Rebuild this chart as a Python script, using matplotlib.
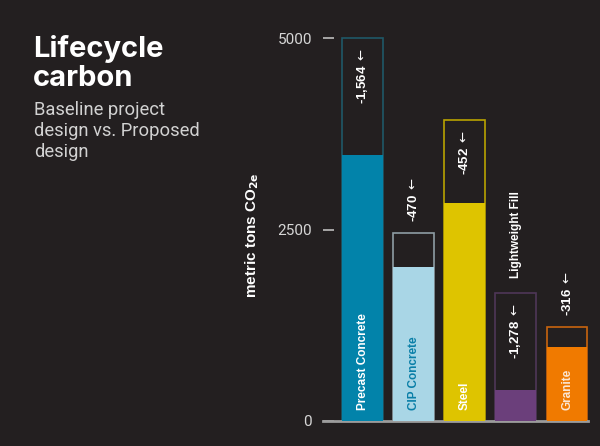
import matplotlib
matplotlib.use("Agg")
import matplotlib.pyplot as plt
import numpy as np

# data (metric tons CO2e)
materials = ["Precast Concrete", "CIP Concrete", "Steel", "Lightweight Fill", "Granite"]
baseline = [5000, 2460, 3930, 1667, 1231]
proposed = [3470, 2010, 2850, 405, 970]
reduction_labels = ["-1,564", "-470", "-452", "-1,278", "-316"]
yticks = [0, 2500, 5000]

fill_colors = ["#0283aa", "#a9d6e6", "#dec400", "#6b3f7b", "#f07a00"]
edge_colors = ["#1f5868", "#8d9ca3", "#b8a200", "#4f3658", "#c8640e"]
name_colors = ["#ffffff", "#0a7fa8", "#ffffff", "#ffffff", "#fbe6d2"]

bg = "#231f20"
W, H = 600, 446

fig = plt.figure(figsize=(6, 4.46), dpi=100, facecolor=bg)
# axes placed from pixel positions of the reference
ax = fig.add_axes([323 / W, 1 - 421 / H, (588 - 323) / W, (421 - 23) / H], facecolor=bg)

x = np.arange(len(materials))
width = 0.8
ax.bar(x, baseline, width, color=bg, edgecolor=edge_colors, linewidth=1.2, zorder=2)
ax.bar(x, proposed, width, color=fill_colors, linewidth=0, zorder=3)

ax.set_xlim(-0.773, 4.41)
ax.set_ylim(0, 5200)
ax.set_xticks([])
ax.set_yticks(yticks)
ax.set_yticklabels([str(t) for t in yticks], family="Roboto", fontsize=11, color="#d6d6d6")
ax.tick_params(axis="y", direction="in", length=8, width=1.2, color="#bdbdbd", pad=8)
for s in ["top", "right", "left"]:
    ax.spines[s].set_visible(False)
ax.spines["bottom"].set_color("#9c9c9c")
ax.spines["bottom"].set_linewidth(2)

lab_font = dict(family="Liberation Sans", fontweight="bold", rotation=90)
arrow = r" $\leftarrow$"
for i, name in enumerate(materials):
    gap = baseline[i] - proposed[i]
    # reduction label goes inside the empty part when it fits, otherwise on top
    if gap > 800:
        ax.annotate(reduction_labels[i] + arrow, (x[i], baseline[i]), xytext=(0, -7),
                    textcoords="offset points", ha="center", va="top", color="white",
                    fontsize=9.5, zorder=5, **lab_font)
        name_above = proposed[i] < len(name) * 85 + 200
        if name_above:
            ax.annotate(name, (x[i], baseline[i]), xytext=(0, 11), textcoords="offset points",
                        ha="center", va="bottom", color="white", fontsize=8.5,
                        annotation_clip=False, zorder=5, **lab_font)
    else:
        ax.annotate(reduction_labels[i] + arrow, (x[i], baseline[i]), xytext=(0, 8),
                    textcoords="offset points", ha="center", va="bottom", color="white",
                    fontsize=9.5, annotation_clip=False, zorder=5, **lab_font)
        name_above = False
    if not name_above:
        ax.annotate(name, (x[i], 0), xytext=(0, 8), textcoords="offset points",
                    ha="center", va="bottom", color=name_colors[i], fontsize=8.5,
                    zorder=5, **lab_font)

fig.text(252 / W, 1 - 235 / H, r"metric tons CO$_{\mathbf{2e}}$", rotation=90,
         ha="center", va="center", color="white", fontsize=11, fontweight="bold",
         family="Liberation Sans")

fig.text(33 / W, 1 - 35 / H, "Lifecycle\ncarbon", ha="left", va="top", color="white",
         fontsize=21, fontweight="bold", family="Inter", linespacing=1.08)
fig.text(34 / W, 1 - 101 / H, "Baseline project\ndesign vs. Proposed\ndesign", ha="left",
         va="top", color="#d2d2d2", fontsize=13.2, family="Roboto", linespacing=1.2)

fig.savefig("out.png", dpi=100, facecolor=bg)
